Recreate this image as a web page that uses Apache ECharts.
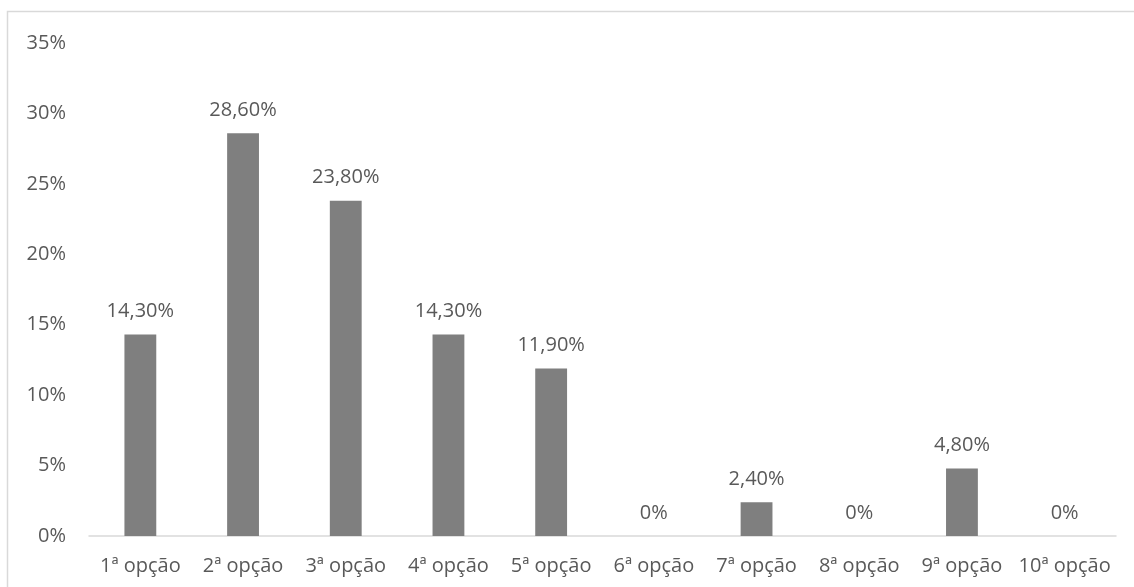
<!DOCTYPE html>
<html>
<head>
<meta charset="utf-8">
<script src="https://cdn.jsdelivr.net/npm/echarts@6/dist/echarts.min.js"></script>
<style>
  html, body { margin: 0; padding: 0; background: #ffffff; }
  #chart { width: 1134px; height: 587px; }
</style>
</head>
<body>
<div id="chart"></div>
<script>
// Share of responses per preference rank
const categories = ['1ª opção', '2ª opção', '3ª opção', '4ª opção', '5ª opção',
                    '6ª opção', '7ª opção', '8ª opção', '9ª opção', '10ª opção'];
const values = [14.3, 28.6, 23.8, 14.3, 11.9, 0, 2.4, 0, 4.8, 0];
const valueLabels = ['14,30%', '28,60%', '23,80%', '14,30%', '11,90%',
                     '0%', '2,40%', '0%', '4,80%', '0%'];

const textColor = '#595959';
const fontFamily = '"Open Sans", "Liberation Sans", sans-serif';
const fontSize = 20;

const chart = echarts.init(document.getElementById('chart'), null, { renderer: 'canvas' });
chart.setOption({
  backgroundColor: '#ffffff',
  animation: false,
  graphic: [{
    type: 'rect',
    shape: { x: 7.5, y: 11.5, width: 1200, height: 700 },
    style: { fill: 'none', stroke: '#d9d9d9', lineWidth: 1.5 },
    silent: true,
    z: -1
  }],
  grid: { left: 89, right: 18, top: 43, bottom: 51, containLabel: false },
  xAxis: {
    type: 'category',
    data: categories,
    axisLine: { show: true, lineStyle: { color: '#d9d9d9', width: 1.5 } },
    axisTick: { show: false },
    axisLabel: { color: textColor, fontSize: fontSize, fontFamily: fontFamily, margin: 20, interval: 0 }
  },
  yAxis: {
    type: 'value',
    min: 0,
    max: 35,
    interval: 5,
    splitLine: { show: false },
    axisLine: { show: false },
    axisTick: { show: false },
    axisLabel: { color: textColor, fontSize: fontSize, fontFamily: fontFamily, margin: 23,
                 formatter: v => v + '%' }
  },
  series: [{
    type: 'bar',
    data: values,
    barWidth: '31%',
    itemStyle: { color: '#7f7f7f' },
    label: {
      show: true,
      position: 'top',
      distance: 13,
      color: textColor,
      fontSize: fontSize,
      fontFamily: fontFamily,
      formatter: p => valueLabels[p.dataIndex]
    }
  }]
});
</script>
</body>
</html>
